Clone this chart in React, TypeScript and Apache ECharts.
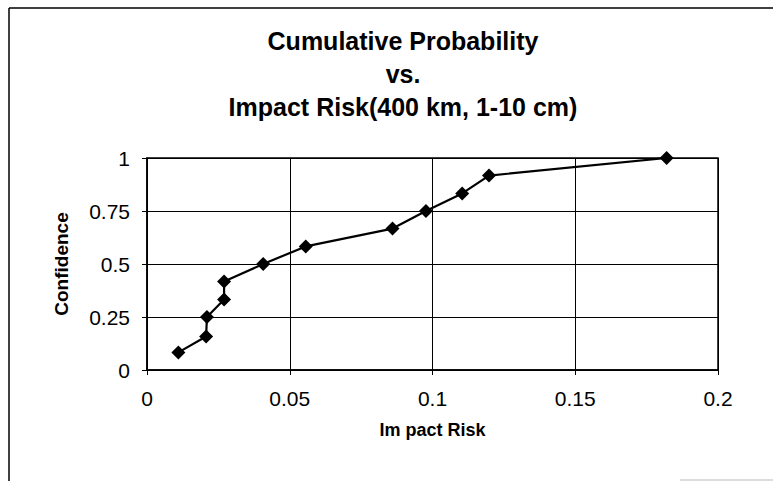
import React, { useEffect, useRef } from "react";
import * as echarts from "echarts";

const impactRisk = [0.011, 0.0207, 0.021, 0.027, 0.027, 0.0407, 0.0556, 0.086, 0.0977, 0.1104, 0.1198, 0.182];
const confidence = [0.083, 0.158, 0.25, 0.333, 0.417, 0.5, 0.583, 0.667, 0.75, 0.833, 0.917, 1.0];
const titleLines = ["Cumulative Probability", "vs.", "Impact Risk(400 km, 1-10 cm)"];
const xAxisName = "Im pact Risk";
const yAxisName = "Confidence";

export default function App() {
  const ref = useRef<HTMLDivElement>(null);
  useEffect(() => {
    if (!ref.current) return;
    const chart = echarts.init(ref.current, undefined, { renderer: "svg" });
    const font = "'Liberation Sans', Arial, sans-serif";
    chart.setOption({
      animation: false,
      backgroundColor: "#fff",
      title: {
        text: titleLines.join("\n"),
        left: 398,
        textAlign: "center",
        top: 19,
        padding: 5,
        textStyle: { fontFamily: font, fontWeight: "bold", fontSize: 25, lineHeight: 33, color: "#000" },
      },
      grid: { left: 147, right: 55, top: 158, bottom: 111, show: true, borderColor: "#000", borderWidth: 1.5 },
      xAxis: {
        type: "value",
        min: 0,
        max: 0.2,
        interval: 0.05,
        name: xAxisName,
        nameLocation: "middle",
        nameGap: 51,
        nameTextStyle: { fontFamily: font, fontWeight: "bold", fontSize: 18, color: "#000" },
        axisLine: { show: true, lineStyle: { color: "#000", width: 1.5 } },
        axisTick: { show: true, length: 5, lineStyle: { color: "#000" } },
        axisLabel: { fontFamily: font, fontSize: 21, color: "#000", margin: 18 },
        splitLine: { show: true, lineStyle: { color: "#000", width: 1 } },
      },
      yAxis: {
        type: "value",
        min: 0,
        max: 1,
        interval: 0.25,
        name: yAxisName,
        nameLocation: "middle",
        nameGap: 76,
        nameRotate: 90,
        nameTextStyle: { fontFamily: font, fontWeight: "bold", fontSize: 19, color: "#000" },
        axisLine: { show: true, lineStyle: { color: "#000", width: 1.5 } },
        axisTick: { show: true, length: 5, lineStyle: { color: "#000" } },
        axisLabel: { fontFamily: font, fontSize: 21, color: "#000", margin: 17 },
        splitLine: { show: true, lineStyle: { color: "#000", width: 1 } },
      },
      series: [
        {
          type: "line",
          data: impactRisk.map((x, i) => [x, confidence[i]]),
          symbol: "diamond",
          symbolSize: 14,
          itemStyle: { color: "#000" },
          lineStyle: { color: "#000", width: 2.2 },
        },
      ],
      graphic: [
        { type: "line", shape: { x1: 9, y1: 8, x2: 9, y2: 481 }, style: { stroke: "#000", lineWidth: 1.5 } },
        { type: "line", shape: { x1: 9, y1: 8, x2: 773, y2: 8 }, style: { stroke: "#000", lineWidth: 1.5 } },
        { type: "line", shape: { x1: 680, y1: 480, x2: 773, y2: 480 }, style: { stroke: "#bbb", lineWidth: 1 } },
      ],
    });
    return () => chart.dispose();
  }, []);
  return <div ref={ref} style={{ width: 773, height: 481, position: "absolute", left: 0, top: 0 }} />;
}
